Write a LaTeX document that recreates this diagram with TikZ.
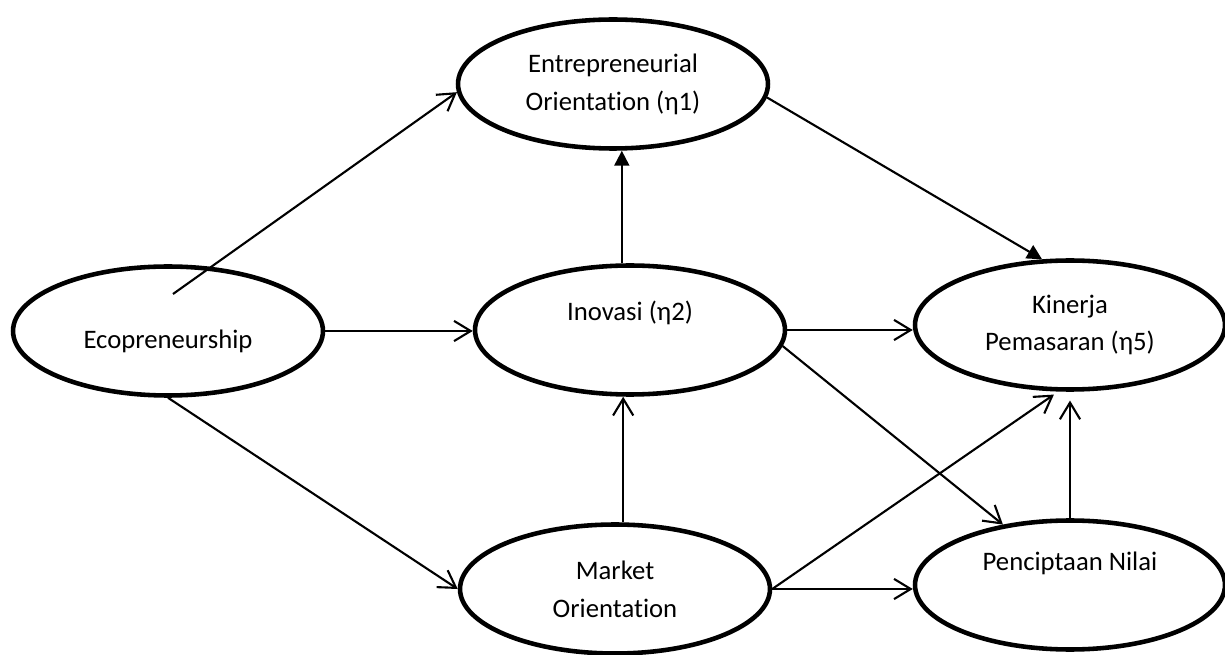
\documentclass[tikz,border=0pt]{standalone}
\usepackage{fontspec}
\setmainfont{Carlito}[Ligatures=NoCommon]
\usetikzlibrary{arrows.meta}
\usetikzlibrary{shapes.geometric}

\begin{document}
\begin{tikzpicture}[x=0.02cm,y=-0.02cm,
    construct/.style={draw,ellipse,line width=2.6pt,minimum width=6.2cm,minimum height=2.58cm,
      inner sep=0pt,align=center,font=\fontsize{15.2}{21.5}\selectfont},
    caption/.style={font=\fontsize{15.2}{21.5}\selectfont},
    openarr/.style={-{Straight Barb[length=9.5pt,width=11.5pt]},line width=1.2pt},
    solidarr/.style={-{Triangle[length=8.5pt,width=8.5pt]},line width=1.2pt}]
                \useasboundingbox (0,0) rectangle (1225,655);
    
                % latent variables
                \node[construct] (eco) at (168,331) {};
                \node[caption,yshift=-6pt] at (eco) {Ecopreneurship};
                \node[construct] (eo) at (613,84) {Entrepreneurial\\Orientation (η1)};
                \node[construct] (inov) at (630,330) {};
                \node[caption,yshift=10pt] at (inov) {Inovasi (η2)};
                \node[construct] (kin) at (1070,325) {Kinerja\\Pemasaran (η5)};
                \node[construct] (mkt) at (615,589) {Market\\Orientation};
                \node[construct] (pen) at (1070,585) {};
                \node[caption,yshift=12.5pt] at (pen) {Penciptaan Nilai};
                \coordinate (ecoIn) at (173,294);
    
                % paths
                \draw[openarr] (ecoIn)--(eo.183);
                \draw[openarr] (eco.east)--(eco.east -| inov.west);
                \draw[openarr] (eco.south)--(mkt.west);
                \draw[solidarr] (inov.97)--(inov.97 |- eo.south);
                \draw[solidarr] (eo.-5)--(kin.113);
                \draw[openarr] (inov.east)--(inov.east -| kin.west);
                \draw[openarr] (inov.-6)--(pen.138);
                \draw[openarr] (mkt.83)--(mkt.83 |- inov.south);
                \draw[openarr,shorten >=3pt] (mkt.east)--(kin.260);
                \draw[openarr] (mkt.east)--(mkt.east -| pen.west);
                \draw[openarr,shorten >=5pt] (pen.north)--(kin.south);
            \end{tikzpicture}
\end{document}
